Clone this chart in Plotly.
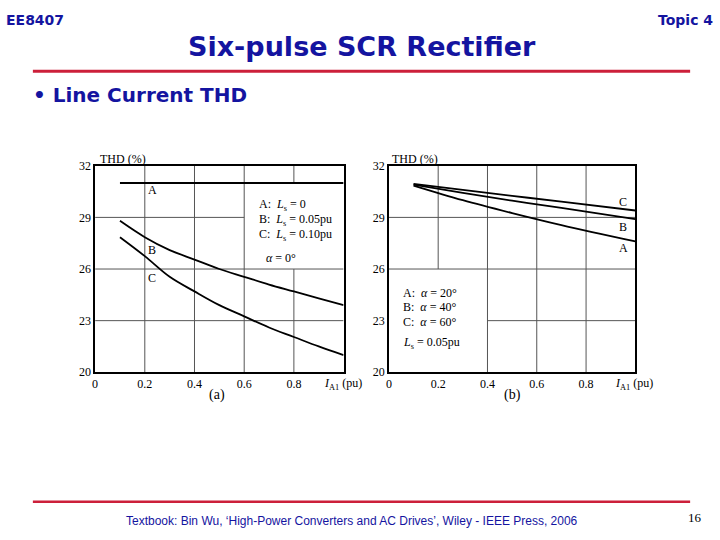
import plotly.graph_objects as go

# ---------------- data ----------------
# Panel (a): alpha = 0 deg, different Ls
a_A_x = [0.1, 1.0]
a_A_y = [31.0, 31.0]
a_B_x = [0.1, 0.2, 0.3, 0.4, 0.5, 0.6, 0.7, 0.8, 0.9, 1.0]
a_B_y = [28.8, 27.85, 27.1, 26.55, 26.0, 25.55, 25.1, 24.7, 24.3, 23.9]
a_C_x = [0.1, 0.2, 0.3, 0.4, 0.5, 0.6, 0.7, 0.8, 0.9, 1.0]
a_C_y = [27.85, 26.75, 25.55, 24.7, 23.9, 23.25, 22.6, 22.05, 21.5, 21.0]

# Panel (b): Ls = 0.05pu, different alpha
b_x = [0.1, 0.3, 0.5, 0.7, 1.0]
b_A_y = [30.85, 30.0, 29.25, 28.55, 27.6]
b_B_y = [30.9, 30.43, 29.97, 29.55, 28.9]
b_C_y = [30.95, 30.6, 30.25, 29.92, 29.4]

y_ticks = [20, 23, 26, 29, 32]
x_ticks = [0, 0.2, 0.4, 0.6, 0.8]
x_tick_text = ["0", "0.2", "0.4", "0.6", "0.8"]

BLUE = "#1414a0"
RED = "#cc1f3a"
SERIF = "Liberation Serif"
SANS = "Liberation Sans"
WIDE = "DejaVu Sans"

W, H = 720, 540
def px(x):
    return x / W
def py(y):
    return 1 - y / H

fig = go.Figure()

line_style = dict(color="black", width=1.8)
fig.add_trace(go.Scatter(x=a_A_x, y=a_A_y, mode="lines", line=line_style, xaxis="x", yaxis="y"))
fig.add_trace(go.Scatter(x=a_B_x, y=a_B_y, mode="lines", line=dict(line_style, shape="spline"), xaxis="x", yaxis="y"))
fig.add_trace(go.Scatter(x=a_C_x, y=a_C_y, mode="lines", line=dict(line_style, shape="spline"), xaxis="x", yaxis="y"))
fig.add_trace(go.Scatter(x=b_x, y=b_A_y, mode="lines", line=dict(line_style, shape="spline"), xaxis="x2", yaxis="y2"))
fig.add_trace(go.Scatter(x=b_x, y=b_B_y, mode="lines", line=dict(line_style, shape="spline"), xaxis="x2", yaxis="y2"))
fig.add_trace(go.Scatter(x=b_x, y=b_C_y, mode="lines", line=dict(line_style, shape="spline"), xaxis="x2", yaxis="y2"))

ydom = [py(375), py(163)]
axis_common = dict(showgrid=False, zeroline=False, showline=True, mirror=True,
                   linecolor="black", linewidth=1.5, ticks="",
                   tickfont=dict(family=SERIF, size=12, color="black"), fixedrange=True)
fig.update_layout(
    xaxis=dict(axis_common, range=[0, 1], domain=[px(92.5), px(342)], anchor="y",
               tickvals=x_ticks, ticktext=x_tick_text),
    yaxis=dict(axis_common, range=[20, 32], domain=ydom, anchor="x", tickvals=y_ticks),
    xaxis2=dict(axis_common, range=[0, 1], domain=[px(387.5), px(635)], anchor="y2",
                tickvals=x_ticks, ticktext=x_tick_text),
    yaxis2=dict(axis_common, range=[20, 32], domain=ydom, anchor="x2", tickvals=y_ticks),
)

# grid segments (panel-specific, leaving blank areas behind the notes)
GRID = dict(color="#555555", width=1)
grid_a = [
    (0.2, 20, 0.2, 32), (0.4, 20, 0.4, 32), (0.6, 20, 0.6, 32),
    (0.8, 20, 0.8, 26), (0.8, 31, 0.8, 32),
    (0, 29, 0.6, 29), (0, 26, 1, 26), (0, 23, 1, 23),
]
grid_b = [
    (0.2, 26, 0.2, 32), (0.4, 20, 0.4, 32), (0.6, 20, 0.6, 32), (0.8, 20, 0.8, 32),
    (0, 29, 1, 29), (0, 26, 1, 26), (0.4, 23, 1, 23),
]
for (x0, y0, x1, y1) in grid_a:
    fig.add_shape(type="line", x0=x0, y0=y0, x1=x1, y1=y1, xref="x", yref="y", line=GRID, layer="below")
for (x0, y0, x1, y1) in grid_b:
    fig.add_shape(type="line", x0=x0, y0=y0, x1=x1, y1=y1, xref="x2", yref="y2", line=GRID, layer="below")

ann = []
def T(text, x, y, xref, yref, size=12, xanchor="center", yanchor="middle", family=SERIF, color="black"):
    ann.append(dict(text=text, x=x, y=y, xref=xref, yref=yref, showarrow=False,
                    xanchor=xanchor, yanchor=yanchor,
                    font=dict(family=family, size=size, color=color)))

# curve labels
T("A", 0.23, 30.6, "x", "y")
T("B", 0.23, 27.1, "x", "y")
T("C", 0.23, 25.5, "x", "y")
T("C", 0.95, 29.9, "x2", "y2")
T("B", 0.95, 28.45, "x2", "y2")
T("A", 0.95, 27.25, "x2", "y2")

# notes
T("A:  <i>L</i><sub>s</sub> = 0", 0.652, 29.74, "x", "y", xanchor="left")
T("B:  <i>L</i><sub>s</sub> = 0.05pu", 0.652, 28.83, "x", "y", xanchor="left")
T("C:  <i>L</i><sub>s</sub> = 0.10pu", 0.652, 27.98, "x", "y", xanchor="left")
T("<i>α</i> = 0°", 0.68, 26.62, "x", "y", xanchor="left")
T("A:  <i>α</i> = 20°", 0.051, 24.6, "x2", "y2", xanchor="left")
T("B:  <i>α</i> = 40°", 0.051, 23.8, "x2", "y2", xanchor="left")
T("C:  <i>α</i> = 60°", 0.051, 22.95, "x2", "y2", xanchor="left")
T("<i>L</i><sub>s</sub> = 0.05pu", 0.051, 21.7, "x2", "y2", xanchor="left")

# axis titles (paper coordinates, outside the plotting areas)
T("THD (%)", px(95), py(156), "paper", "paper", xanchor="left")
T("THD (%)", px(389), py(156), "paper", "paper", xanchor="left")
T("<i>I</i><sub>A1</sub> (pu)", px(341), py(387), "paper", "paper")
T("<i>I</i><sub>A1</sub> (pu)", px(634), py(387), "paper", "paper")
T("(a)", px(215), py(398), "paper", "paper", size=14)
T("(b)", px(512), py(398), "paper", "paper", size=14)

# slide text
T("<b>EE8407</b>", px(1), py(13), "paper", "paper", size=14, xanchor="left", family=WIDE, color=BLUE)
T("<b>Topic 4</b>", px(715), py(13), "paper", "paper", size=14, xanchor="right", family=WIDE, color=BLUE)
T("<b>Six-pulse SCR Rectifier</b>", px(360), py(41), "paper", "paper", size=27, family=WIDE, color=BLUE)
T("<b>• Line Current THD</b>", px(28), py(90), "paper", "paper", size=20, xanchor="left", family=WIDE, color=BLUE)
T("Textbook: Bin Wu, ‘High-Power Converters and AC Drives’, Wiley - IEEE Press, 2006",
  px(350), py(528), "paper", "paper", size=12, family=SANS, color=BLUE)
T("16", px(695), py(524), "paper", "paper", size=13, family=SERIF, color="black")

fig.add_shape(type="line", x0=px(30), x1=px(690), y0=py(66), y1=py(66),
              xref="paper", yref="paper", line=dict(color=RED, width=3))
fig.add_shape(type="line", x0=px(30), x1=px(690), y0=py(508), y1=py(508),
              xref="paper", yref="paper", line=dict(color=RED, width=2.5))

fig.update_layout(
    annotations=ann,
    width=W, height=H,
    margin=dict(l=0, r=0, t=0, b=0),
    paper_bgcolor="white", plot_bgcolor="white",
    showlegend=False,
)

fig.write_html("out.html", include_plotlyjs=True, config={"displayModeBar": False},
               post_script="document.body.style.margin='0';document.body.style.padding='0';")
